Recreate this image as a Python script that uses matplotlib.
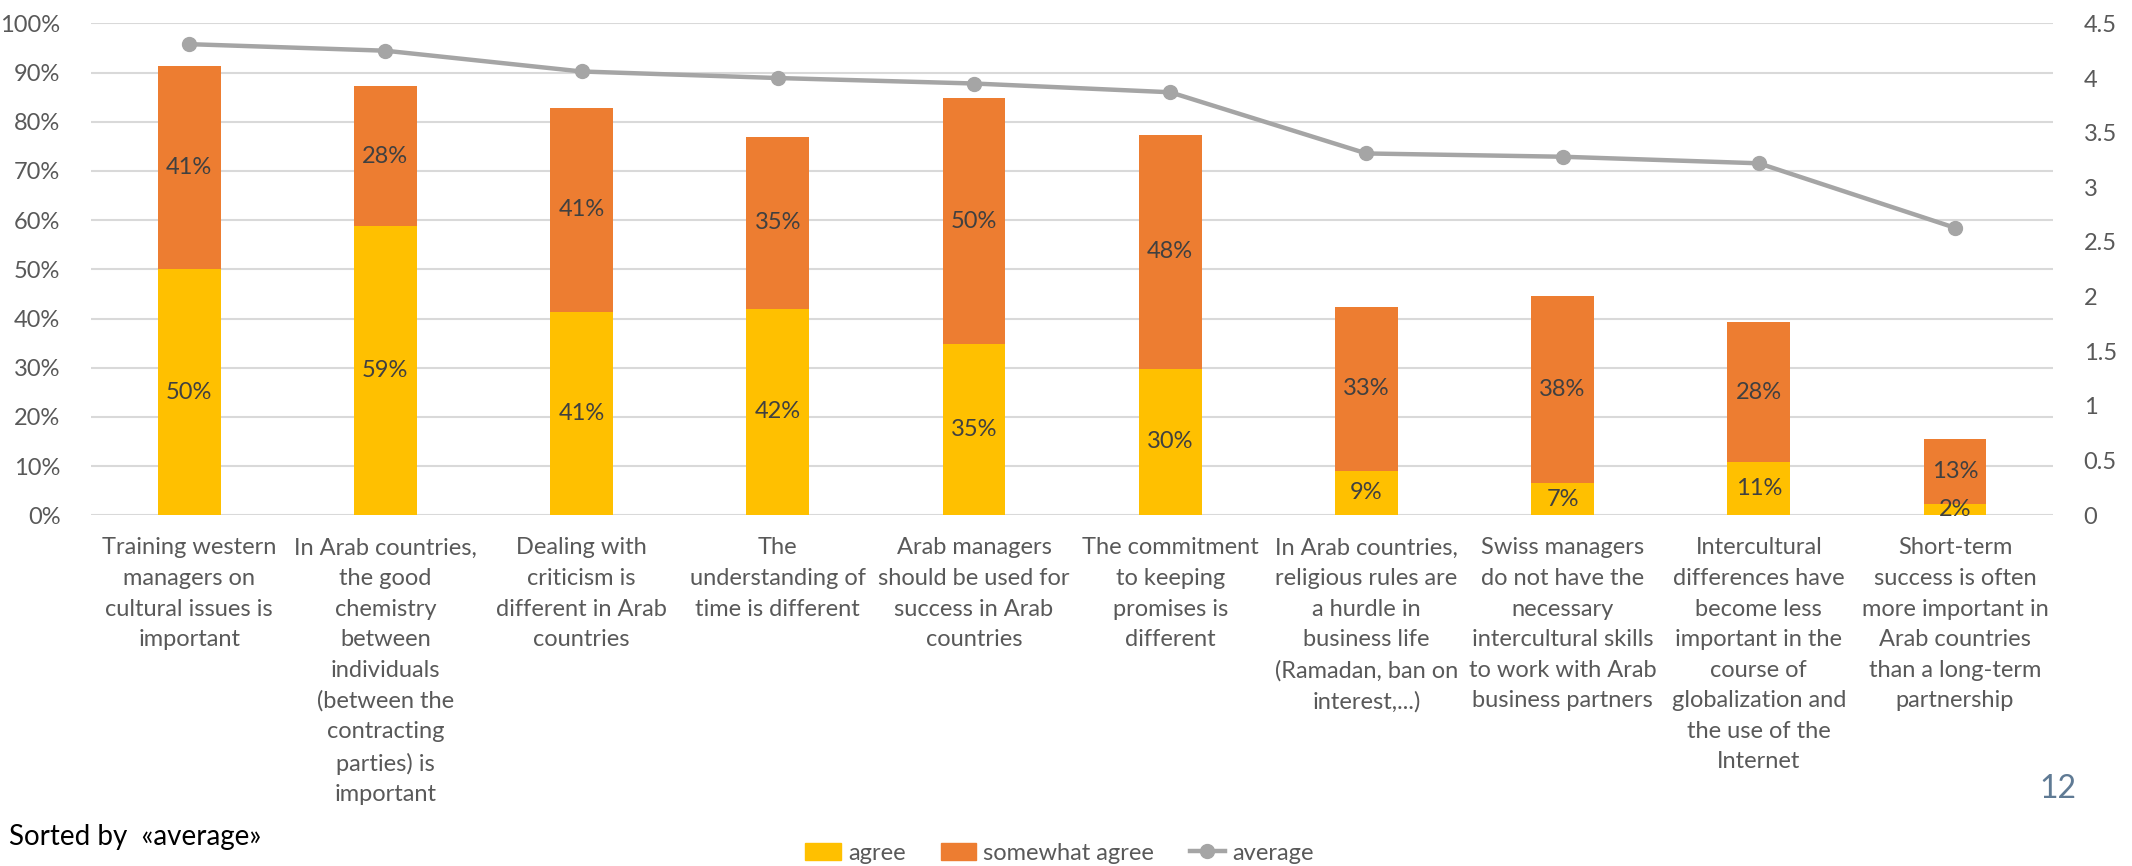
import matplotlib.pyplot as plt
from matplotlib.lines import Line2D
from matplotlib.patches import Patch

plt.rcParams['font.family'] = ['Lato', 'DejaVu Sans']

categories = [
    "Training western\nmanagers on\ncultural issues is\nimportant",
    "In Arab countries,\nthe good\nchemistry\nbetween\nindividuals\n(between the\ncontracting\nparties) is\nimportant",
    "Dealing with\ncriticism is\ndifferent in Arab\ncountries",
    "The\nunderstanding of\ntime is different",
    "Arab managers\nshould be used for\nsuccess in Arab\ncountries",
    "The commitment\nto keeping\npromises is\ndifferent",
    "In Arab countries,\nreligious rules are\na hurdle in\nbusiness life\n(Ramadan, ban on\ninterest,...)",
    "Swiss managers\ndo not have the\nnecessary\nintercultural skills\nto work with Arab\nbusiness partners",
    "Intercultural\ndifferences have\nbecome less\nimportant in the\ncourse of\nglobalization and\nthe use of the\nInternet",
    "Short-term\nsuccess is often\nmore important in\nArab countries\nthan a long-term\npartnership",
]
agree = [50.0, 58.8, 41.4, 42.0, 34.8, 29.8, 9.1, 6.6, 10.8, 2.2]
somewhat_agree = [41.4, 28.4, 41.4, 35.0, 50.0, 47.6, 33.2, 38.0, 28.4, 13.3]
average = [4.31, 4.25, 4.06, 4.00, 3.95, 3.87, 3.31, 3.28, 3.22, 2.63]

c_agree = "#FFC000"
c_some = "#ED7D31"
c_avg = "#A5A5A5"
tick_col = "#595959"
lab_col = "#404040"
fs = 17

fig = plt.figure(figsize=(21.32, 8.66), dpi=100)
ax = fig.add_axes([0.0427, 0.405, 0.9203, 0.568])
ax2 = ax.twinx()

x = list(range(len(categories)))
bw = 0.32
a_frac = [v / 100 for v in agree]
s_frac = [v / 100 for v in somewhat_agree]
b1 = ax.bar(x, a_frac, bw, color=c_agree, zorder=2)
b2 = ax.bar(x, s_frac, bw, bottom=a_frac, color=c_some, zorder=2)

for bars, vals in ((b1, agree), (b2, somewhat_agree)):
    ax.bar_label(bars, labels=[f"{v:.0f}%" for v in vals], label_type="center",
                 fontsize=fs, color=lab_col)

ax2.plot(x, average, color=c_avg, lw=3.2, marker="o", ms=10, zorder=3)

ax.set_xlim(-0.5, len(categories) - 0.5)
ax.set_ylim(0, 1)
ax2.set_ylim(0, 4.5)
ax.set_yticks([i / 10 for i in range(11)])
ax.set_yticklabels([f"{i * 10}%" for i in range(11)])
ax2.set_yticks([i * 0.5 for i in range(10)])
ax2.set_yticklabels(["0", "0.5", "1", "1.5", "2", "2.5", "3", "3.5", "4", "4.5"])

ax.set_xticks(x)
ax.set_xticklabels(categories, fontsize=fs, color=tick_col, linespacing=1.56, va="top")
ax.grid(axis="y", color="#D9D9D9", lw=1.5, zorder=0)
ax.set_axisbelow(True)
for a in (ax, ax2):
    for sp in a.spines.values():
        sp.set_visible(False)
    a.tick_params(length=0, labelsize=fs, labelcolor=tick_col)
ax.tick_params(axis="y", pad=22)
ax.tick_params(axis="x", pad=16)
ax2.tick_params(axis="y", pad=22)

handles = [Patch(color=c_agree, label="agree"),
           Patch(color=c_some, label="somewhat agree"),
           Line2D([], [], color=c_avg, lw=3.2, marker="o", ms=10, label="average")]
leg = fig.legend(handles=handles, loc="center", bbox_to_anchor=(0.497, 0.015), ncol=3,
                 frameon=False, fontsize=fs, handlelength=1.5, handleheight=0.7,
                 columnspacing=1.5, handletextpad=0.3)
for t in leg.get_texts():
    t.set_color(tick_col)

fig.text(0.004, 0.034, "Sorted by  «average»", fontsize=20, color="black", va="center")
fig.text(0.965, 0.089, "12", fontsize=23, color="#5F7A94", ha="center", va="center")

fig.savefig("out.png", dpi=100)
